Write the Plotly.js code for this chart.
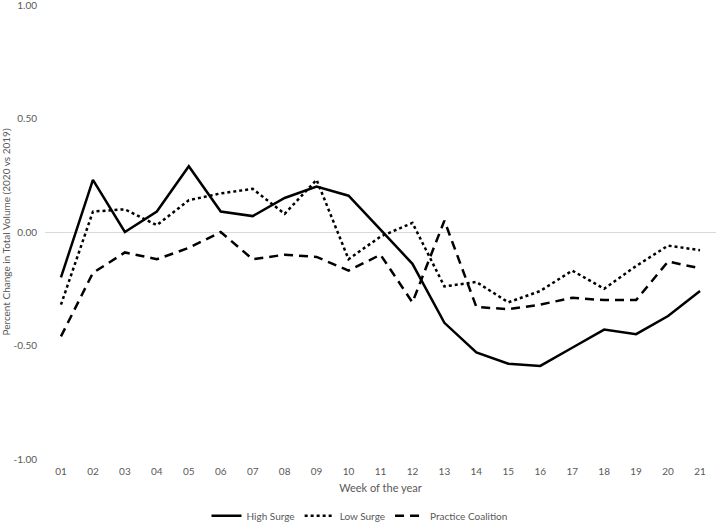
<!DOCTYPE html>
<html>
<head>
<meta charset="utf-8">
<script src="https://cdn.plot.ly/plotly-3.0.1.min.js"></script>
<style>
  html, body { margin: 0; padding: 0; background: #fff; }
  #chart { width: 719px; height: 522px; }
</style>
</head>
<body>
<div id="chart"></div>
<script>
var weeks = ['01','02','03','04','05','06','07','08','09','10','11','12','13','14','15','16','17','18','19','20','21'];

var highSurge = [-0.20, 0.23, 0.00, 0.09, 0.29, 0.09, 0.07, 0.15, 0.20, 0.16, 0.01, -0.14, -0.40, -0.53, -0.58, -0.59, -0.51, -0.43, -0.45, -0.37, -0.26];
var lowSurge = [-0.32, 0.09, 0.10, 0.03, 0.14, 0.17, 0.19, 0.08, 0.23, -0.12, -0.02, 0.04, -0.24, -0.22, -0.31, -0.26, -0.17, -0.25, -0.15, -0.06, -0.08];
var practiceCoalition = [-0.46, -0.18, -0.09, -0.12, -0.07, 0.00, -0.12, -0.10, -0.11, -0.17, -0.10, -0.31, 0.05, -0.33, -0.34, -0.32, -0.29, -0.30, -0.30, -0.13, -0.16];

var yTicks = [1, 0.5, 0, -0.5, -1];
var yTickText = ['1.00', '0.50', '0.00', '-0.50', '-1.00'];

var grey = '#595959';
var font = 'Lato, "Open Sans", sans-serif';

var trace1 = {
  x: weeks, y: highSurge, type: 'scatter', mode: 'lines', name: 'High Surge',
  line: {color: '#000', width: 2.5}
};
var trace2 = {
  x: weeks, y: lowSurge, type: 'scatter', mode: 'lines', name: 'Low Surge',
  line: {color: '#000', width: 2.5, dash: 'dot'}
};
var trace3 = {
  x: weeks, y: practiceCoalition, type: 'scatter', mode: 'lines', name: 'Practice Coalition',
  line: {color: '#000', width: 2.5, dash: '9px,6px'}
};

var layout = {
  width: 719, height: 522,
  margin: {l: 45, r: 3, t: 5, b: 63, autoexpand: false},
  paper_bgcolor: '#fff', plot_bgcolor: '#fff',
  font: {family: font, size: 10, color: grey},
  showlegend: true,
  legend: {
    orientation: 'h', xref: 'container', x: 0.5, xanchor: 'center',
    y: -0.125, yanchor: 'middle',
    font: {family: font, size: 10, color: grey}, itemwidth: 30
  },
  xaxis: {
    type: 'category', range: [-0.5, 20.5], automargin: false,
    showgrid: false, zeroline: false, showline: false, ticks: '',
    ticklabelstandoff: 5,
    tickfont: {family: font, size: 10, color: grey},
    title: {text: 'Week of the year', font: {size: 11, color: grey}, standoff: 8}
  },
  yaxis: {
    range: [-1, 1], tickvals: yTicks, ticktext: yTickText, automargin: false,
    showgrid: false, zeroline: true, zerolinecolor: '#d9d9d9', zerolinewidth: 1,
    showline: false, ticks: '', ticklabeloverflow: 'allow', ticklabelstandoff: 7,
    tickfont: {family: font, size: 10, color: grey},
    title: {text: 'Percent Change in Total Volume (2020 vs 2019)', font: {size: 10, color: grey}, standoff: 6}
  }
};

Plotly.newPlot('chart', [trace1, trace2, trace3], layout, {displayModeBar: false, staticPlot: true});
</script>
</body>
</html>
